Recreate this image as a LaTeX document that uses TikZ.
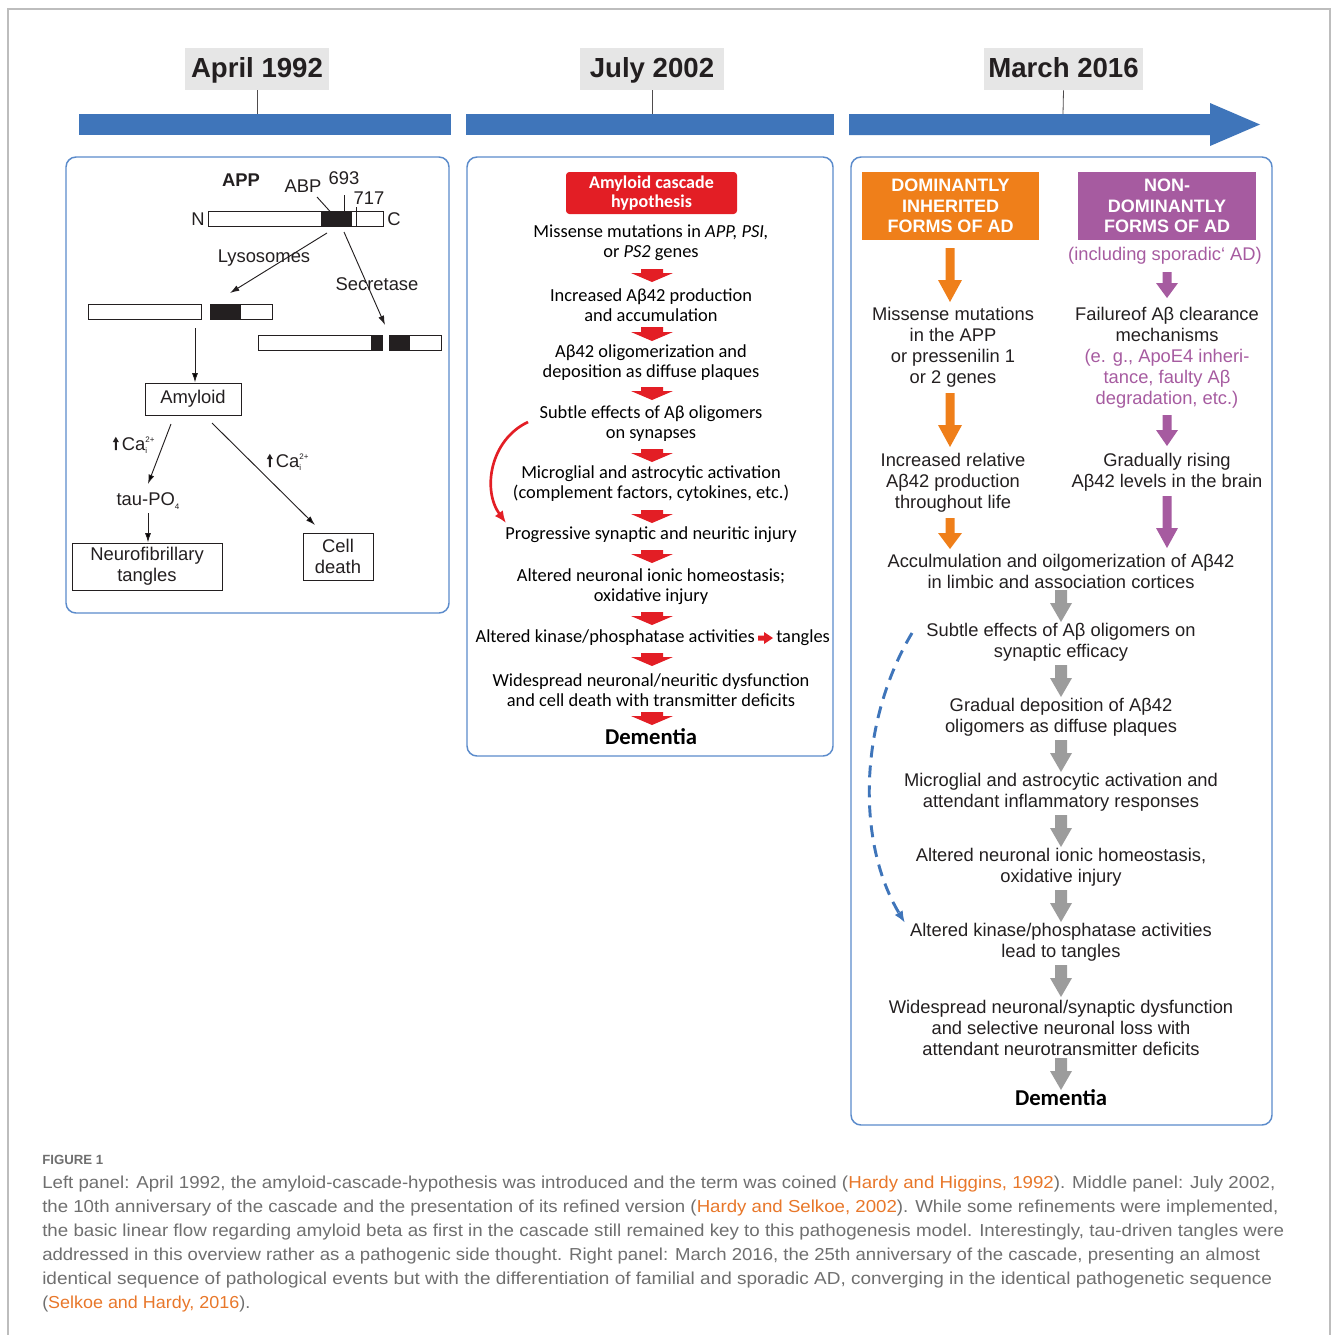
\documentclass[tikz,border=0pt]{standalone}
\usepackage{fontspec}
\usepackage{graphicx}
\setmainfont{Liberation Sans}
\newfontfamily\calfont{Carlito}
\usetikzlibrary{arrows.meta}
\definecolor{barblue}{HTML}{3F75BA}
\definecolor{panelblue}{HTML}{5B8BCB}
\definecolor{titlegray}{HTML}{E6E6E6}
\definecolor{redA}{HTML}{E31E25}
\definecolor{orangeA}{HTML}{EF7F1A}
\definecolor{purpleA}{HTML}{A65BA0}
\definecolor{grayA}{HTML}{9C9C9C}
\definecolor{txt}{HTML}{231F20}
\definecolor{capgray}{HTML}{6F6F6F}
\definecolor{linkor}{HTML}{E8772A}
\definecolor{framegray}{HTML}{BDBDBD}
\newcommand\fs[2]{\fontsize{#1}{#2}\selectfont}
\newsavebox\capbox
\newlength\caplen
\newcommand\fitline[2]{\sbox\capbox{#2}\setlength\caplen{\wd\capbox}\pgfmathsetmacro\capr{#1/\caplen}\scalebox{\capr}[1]{\usebox\capbox}}
% color, cx, ytop, ybot, stemhalf, headhalf, headlen
\newcommand\barrow[7]{\fill[#1] ({#2-#5},#3) -- ({#2+#5},#3) -- ({#2+#5},{#4-#7}) -- ({#2+#6},{#4-#7}) -- (#2,#4) -- ({#2-#6},{#4-#7}) -- ({#2-#5},{#4-#7}) -- cycle;}
\newcommand\uparr{\tikz[x=1pt,y=1pt,baseline=0pt]{\fill[txt] (-0.8,0) -- (0.8,0) -- (0.8,6) -- (2.3,6) -- (0,10) -- (-2.3,6) -- (-0.8,6) -- cycle;}}
\newcommand\upca{\uparr\,Ca\rlap{\raisebox{6pt}{\fs{6}{6}2+}}\raisebox{-2.5pt}{\fs{6}{6}i}\hspace{6pt}}
\newcommand\lowered[1]{\raisebox{-1.2pt}[\height][\depth]{\vphantom{Jy}#1}}
\tikzset{
  panel/.style={draw=panelblue, line width=1.1pt, rounded corners=7.5pt},
  titlebox/.style={fill=titlegray, minimum height=31.5pt, inner sep=0, font=\bfseries\fs{20.7}{24}, text=txt},
  barnode/.style={fill=barblue, minimum height=15.75pt, inner sep=0, anchor=north west},
  tick/.style={draw=txt!80, line width=0.6pt},
  lt/.style={font=\fs{13.8}{15.5}, text=txt, align=center, inner sep=0},
  boxL/.style={draw=txt, line width=0.7pt, inner sep=0, font=\fs{13.8}{15.5}, text=txt, align=center},
  larr/.style={draw=txt, line width=0.7pt, -{Latex[length=7pt,width=4.5pt]}},
  frag/.style={draw=txt, line width=0.7pt},
  mt/.style={font=\calfont\fs{13.8}{15}, text=black, align=center, inner sep=0},
  rt/.style={font=\fs{13.75}{15.75}, text=txt, align=center, inner sep=0},
  hdr/.style={font=\bfseries\fs{13.5}{15.4}, text=white, align=center, inner sep=0, minimum height=51pt},
  capl/.style={anchor=west, inner sep=0, font=\fs{13}{15}, text=capgray}
}
\begin{document}
\begin{tikzpicture}[x=0.75pt,y=-0.75pt]
\useasboundingbox (0,0) rectangle (1333,1335);
% outer frame
\draw[framegray, line width=0.8pt] (8,1335) -- (8,9) -- (1330,9) -- (1330,1335);

% ---------- timeline ----------
\node[barnode, minimum width=279pt] (b1) at (79,114) {};
\node[barnode, minimum width=276pt] (b2) at (466,114) {};
\fill[barblue] (849,114) -- (1210,114) -- (1210,103) -- (1260,124.5) -- (1210,146) -- (1210,135) -- (849,135) -- cycle;
\coordinate (b3top) at (1063,114);
\node[titlebox, minimum width=108pt] (t1) at (257,69) {\lowered{April 1992}};
\node[titlebox, minimum width=108pt] (t2) at (652,69) {\lowered{July 2002}};
\node[titlebox, minimum width=119.25pt] (t3) at (1063.5,69) {\lowered{March 2016}};
\draw[tick] (t1.south) -- (t1.south |- b1.north);
\draw[tick] (t2.south) -- (t2.south |- b2.north);
\draw[tick] (t3.south) -- (b3top);

% ---------- panels ----------
\draw[panel] (66,157) rectangle (449,613);
\draw[panel] (467,157) rectangle (833,756);
\draw[panel] (851,157) rectangle (1272,1125);

% ---------- left panel ----------
\node[lt, font=\bfseries\fs{13.8}{15.5}] (app) at (241,180) {APP};
\node[lt] (abp) at (303,186) {ABP};
\node[lt] (n693) at (344,178) {693};
\node[lt] (n717) at (369,198) {717};
\node[lt] (nN) at (198,219) {N};
\node[lt] (nC) at (394,219) {C};
\draw[frag] (208,211) rectangle (383,226);
\fill[txt] (321,211) rectangle (352,226);
\draw[frag] (356,207) -- (356,226);
\draw[frag] (344,195) -- (344,211);
\draw[frag] (317,197) -- (336,218);
% fragments
\draw[frag] (88,304) rectangle (201,319);
\draw[frag] (210,304) rectangle (272,319);
\fill[txt] (210,304) rectangle (241,319);
\draw[frag] (258,335) rectangle (382,350);
\fill[txt] (371,335) rectangle (382,350);
\draw[frag] (389,335) rectangle (441,350);
\fill[txt] (389,335) rectangle (410,350);
\coordinate (lysS) at (327,233);
\coordinate (lysE) at (230,293);
\coordinate (secS) at (344,232);
\coordinate (secE) at (385,325);
\draw[larr] (lysS) -- (lysE);
\draw[larr] (secS) -- (secE);
\node[lt] (lys) at (264,258) {Lysosomes};
\node[lt] (sec) at (377,284) {Secretase};
\node[boxL, minimum width=72pt, minimum height=24pt] (amy) at (193,399) {Amyloid};
\node[boxL, minimum width=112.5pt, minimum height=35.25pt] (nft) at (147,566.5) {Neurofibrillary\\tangles};
\node[boxL, minimum width=52.5pt, minimum height=35.25pt] (cell) at (338,556.5) {Cell\\death};
\node[lt] (tau) at (148,501) {tau-PO\raisebox{-2.5pt}{\fs{6}{6}4}};
\node[lt] (ca1) at (134,445) {\upca};
\node[lt] (ca2) at (288,462) {\upca};
\coordinate (dnS) at (195,328);
\draw[larr] (dnS) -- (dnS |- amy.north);
\coordinate (a2tS) at (171,424);
\coordinate (a2tE) at (148,484);
\draw[larr] (a2tS) -- (a2tE);
\coordinate (a2cS) at (212,423);
\coordinate (a2cE) at (315,525);
\draw[larr] (a2cS) -- (a2cE);
\draw[larr] ([yshift=-3pt]tau.south) -- (nft.north -| tau.south);

% ---------- middle panel ----------
\node[fill=redA, rounded corners=2.5pt, minimum width=128.25pt, minimum height=31.5pt, inner sep=0, text=white, align=center, font=\calfont\bfseries\fs{13.5}{14.5}] (mh) at (651.5,193) {Amyloid cascade\\hypothesis};
\node[mt] (m1) at (651,243) {Missense mutations in \textit{APP, PSI,}\\or \textit{PS2} genes};
\node[mt] (m2) at (651,305) {Increased Aβ42 production\\and accumulation};
\node[mt] (m3) at (651,363) {Aβ42 oligomerization and\\deposition as diffuse plaques};
\node[mt] (m4) at (651,423.5) {Subtle effects of Aβ oligomers\\on synapses};
\node[mt] (m5) at (651,484) {Microglial and astrocytic activation\\(complement factors, cytokines, etc.)};
\node[mt] (m6) at (651,535) {Progressive synaptic and neuritic injury};
\node[mt] (m7) at (651,586.5) {Altered neuronal ionic homeostasis;\\oxidative injury};
\node[mt, anchor=east] (m8a) at (755,638) {Altered kinase/phosphatase activities};
\node[mt, anchor=west] (m8b) at (776,638) {tangles};
\node[mt] (m9) at (651,690) {Widespread neuronal/neuritic dysfunction\\and cell death with transmitter deficits};
\node[mt, font=\calfont\bfseries\fs{17}{19}] (m10) at (651,737) {Dementia};
\foreach \yt/\yb in {269/282, 327/341, 387/400, 449/462, 510/523, 550/563, 612/625, 653/666, 712/725}
  {\barrow{redA}{652}{\yt}{\yb}{11}{21}{9}}
\fill[redA] (758,635.5) -- (764,635.5) -- (764,632) -- (773,638) -- (764,644) -- (764,640.5) -- (758,640.5) -- cycle;
\draw[redA, line width=2pt, -{Latex[length=9pt,width=7.5pt]}] (528,422) .. controls (490,440) and (482,490) .. (506,523);

% ---------- right panel ----------
\node[hdr, fill=orangeA, minimum width=132.75pt] (ho) at (950.5,206) {DOMINANTLY\\INHERITED\\FORMS OF AD};
\node[hdr, fill=purpleA, minimum width=133.5pt] (hp) at (1167,206) {NON-\\DOMINANTLY\\FORMS OF AD};
\node[rt, text=purpleA] (incl) at (1165,256) {(including sporadic‘ AD)};
\node[rt] (r1) at (953,347) {Missense mutations\\in the APP\\or pressenilin 1\\or 2 genes};
\node[rt] (r2) at (953,482.5) {Increased relative\\Aβ42 production\\throughout life};
\node[rt] (p1) at (1167,358) {Failureof Aβ clearance\\mechanisms\\\textcolor{purpleA}{(e. g., ApoE4 inheri-}\\\textcolor{purpleA}{tance, faulty Aβ}\\\textcolor{purpleA}{degradation, etc.)}};
\node[rt] (p2) at (1167,472) {Gradually rising\\Aβ42 levels in the brain};
\node[rt] (c1) at (1061,571.5) {Acculmulation and oilgomerization of Aβ42\\in limbic and association cortices};
\node[rt] (c2) at (1061,642.5) {Subtle effects of Aβ oligomers on\\synaptic efficacy};
\node[rt] (c3) at (1061,717.5) {Gradual deposition of Aβ42\\oligomers as diffuse plaques};
\node[rt] (c4) at (1061,792.5) {Microglial and astrocytic activation and\\attendant inflammatory responses};
\node[rt] (c5) at (1061,867.5) {Altered neuronal ionic homeostasis,\\oxidative injury};
\node[rt] (c6) at (1061,942.5) {Altered kinase/phosphatase activities\\lead to tangles};
\node[rt] (c7) at (1061,1028) {Widespread neuronal/synaptic dysfunction\\and selective neuronal loss with\\attendant neurotransmitter deficits};
\node[mt, font=\calfont\bfseries\fs{17}{19}] (c8) at (1061,1098) {Dementia};
% orange arrows
\barrow{orangeA}{950}{248}{302}{4.5}{12}{22}
\barrow{orangeA}{950}{393}{447}{4.5}{12}{22}
\barrow{orangeA}{950}{518}{549}{4.5}{12}{16}
% purple arrows
\barrow{purpleA}{1167}{272}{298}{4.5}{11}{15}
\barrow{purpleA}{1167}{415}{446}{4.5}{11}{16}
\barrow{purpleA}{1167}{496}{548}{4.5}{11}{20}
% gray arrows
\foreach \yt/\yb in {590/622, 665/697, 740/772, 815/847, 890/922, 965/997, 1058/1090}
  {\barrow{grayA}{1061}{\yt}{\yb}{6}{11}{19}}
\draw[barblue, line width=2.2pt, dash pattern=on 9pt off 6pt, -{Latex[length=9pt,width=7pt]}] (912,633) .. controls (860,720) and (855,840) .. (905,923);

% ---------- caption ----------
\node[capl, font=\bfseries\fs{10}{12}] (fig) at (42,1160) {\fitline{45.75}{FIGURE 1}};
\node[capl] (cap1) at (42,1184) {\fitline{924.75}{Left panel: April 1992, the amyloid-cascade-hypothesis was introduced and the term was coined (\textcolor{linkor}{Hardy and Higgins, 1992}). Middle panel: July 2002,}};
\node[capl] (cap2) at (42,1208) {\fitline{927}{the 10th anniversary of the cascade and the presentation of its refined version (\textcolor{linkor}{Hardy and Selkoe, 2002}). While some refinements were implemented,}};
\node[capl] (cap3) at (42,1232) {\fitline{931.5}{the basic linear flow regarding amyloid beta as first in the cascade still remained key to this pathogenesis model. Interestingly, tau-driven tangles were}};
\node[capl] (cap4) at (42,1256) {\fitline{913.5}{addressed in this overview rather as a pathogenic side thought. Right panel: March 2016, the 25th anniversary of the cascade, presenting an almost}};
\node[capl] (cap5) at (42,1280) {\fitline{922.5}{identical sequence of pathological events but with the differentiation of familial and sporadic AD, converging in the identical pathogenetic sequence}};
\node[capl] (cap6) at (42,1304) {\fitline{156}{(\textcolor{linkor}{Selkoe and Hardy, 2016}).}};
\end{tikzpicture}
\end{document}
